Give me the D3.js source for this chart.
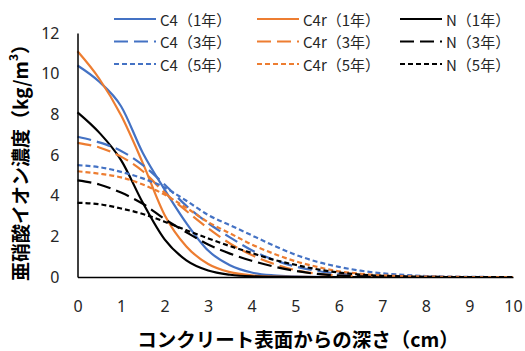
<!DOCTYPE html>
<html>
<head>
<meta charset="utf-8">
<script src="https://cdn.jsdelivr.net/npm/d3@7"></script>
<style>
  html, body { margin: 0; padding: 0; background: #fff; }
  svg { display: block; font-family: "Noto Sans CJK JP", "Noto Sans", sans-serif; }
</style>
</head>
<body>
<svg id="chart" width="525" height="351"></svg>
<script>
// Depth from the concrete surface (cm)
const depth = [0, 0.5, 1, 1.5, 2, 2.5, 3, 3.5, 4, 4.5, 5, 5.5, 6, 6.5, 7, 7.5, 8, 8.5, 9, 9.5, 10];

// Nitrite ion concentration (kg/m3) per specimen and exposure period
const c4_1  = [10.4, 9.6, 8.4, 6.1, 4.3, 2.65, 1.3, 0.58, 0.22, 0.08, 0.03, 0.01, 0, 0, 0, 0, 0, 0, 0, 0, 0];
const c4r_1 = [11.1, 9.75, 7.95, 5.6, 3.05, 1.5, 0.64, 0.24, 0.08, 0.02, 0.01, 0, 0, 0, 0, 0, 0, 0, 0, 0, 0];
const n_1   = [8.1, 7.1, 5.75, 3.65, 1.85, 0.82, 0.32, 0.11, 0.03, 0.01, 0, 0, 0, 0, 0, 0, 0, 0, 0, 0, 0];
const c4_3  = [6.9, 6.62, 6.2, 5.5, 4.55, 3.5, 2.65, 1.95, 1.32, 0.85, 0.52, 0.3, 0.17, 0.09, 0.05, 0.02, 0.01, 0, 0, 0, 0];
const c4r_3 = [6.6, 6.37, 5.92, 5.2, 4.15, 3.25, 2.4, 1.65, 1.08, 0.65, 0.34, 0.16, 0.07, 0.03, 0.01, 0, 0, 0, 0, 0, 0];
const n_3   = [4.75, 4.55, 4.15, 3.6, 2.85, 2.2, 1.6, 1.15, 0.8, 0.52, 0.3, 0.15, 0.07, 0.03, 0.01, 0, 0, 0, 0, 0, 0];
const c4_5  = [5.5, 5.4, 5.17, 4.85, 4.4, 3.75, 3.05, 2.55, 2.05, 1.55, 1.1, 0.75, 0.5, 0.31, 0.18, 0.1, 0.05, 0.02, 0.01, 0, 0];
const c4r_5 = [5.2, 5.08, 4.9, 4.55, 4.05, 3.4, 2.7, 2.15, 1.6, 1.15, 0.78, 0.5, 0.28, 0.16, 0.08, 0.04, 0.02, 0.01, 0, 0, 0];
const n_5   = [3.65, 3.58, 3.37, 3.1, 2.72, 2.3, 1.9, 1.52, 1.18, 0.85, 0.6, 0.38, 0.22, 0.12, 0.06, 0.03, 0.01, 0, 0, 0, 0];

const seriesNames = ["C4（1年）", "C4r（1年）", "N（1年）",
                     "C4（3年）", "C4r（3年）", "N（3年）",
                     "C4（5年）", "C4r（5年）", "N（5年）"];
const seriesValues = [c4_1, c4r_1, n_1, c4_3, c4r_3, n_3, c4_5, c4r_5, n_5];

const xTicks = [0, 1, 2, 3, 4, 5, 6, 7, 8, 9, 10];
const yTicks = [0, 2, 4, 6, 8, 10, 12];

const xTitle = "コンクリート表面からの深さ（cm）";

// Styling per series: colour by specimen, dash by period
const colours = { C4: "#4472C4", C4r: "#ED7D31", N: "#000000" };
const dashes = { "1": null, "3": "14,6", "5": "5,3" };

const series = seriesNames.map((name, i) => {
  const key = name.split("（")[0];
  const period = name.match(/（(\d)年）/)[1];
  return {
    name,
    colour: colours[key],
    dash: dashes[period],
    points: depth.map((d, j) => ({ d, v: seriesValues[i][j] }))
  };
});

const svg = d3.select("#chart");
const x = d3.scaleLinear().domain([0, 10]).range([77.5, 513]);
const y = d3.scaleLinear().domain([0, 12]).range([277, 33]);

// Curves
const line = d3.line()
  .x(p => x(p.d))
  .y(p => y(p.v))
  .curve(d3.curveMonotoneX);

svg.append("g")
  .selectAll("path")
  .data(series)
  .join("path")
  .attr("d", s => line(s.points))
  .attr("fill", "none")
  .attr("stroke", s => s.colour)
  .attr("stroke-width", 2.2)
  .attr("stroke-dasharray", s => s.dash);

// Axes
const xAxis = svg.append("g")
  .attr("transform", `translate(0,${y(0)})`)
  .call(d3.axisBottom(x).tickValues(xTicks).tickSize(0).tickFormat(d3.format("d")));
const yAxis = svg.append("g")
  .attr("transform", `translate(${x(0)},0)`)
  .call(d3.axisLeft(y).tickValues(yTicks).tickSize(0).tickPadding(18).tickFormat(d3.format("d")));

[xAxis, yAxis].forEach(g => {
  g.select(".domain").attr("stroke", "#000").attr("stroke-width", 1.5);
  g.selectAll("text").attr("font-size", 16).attr("fill", "#262626")
    .attr("font-family", "'Noto Sans', 'Noto Sans CJK JP', sans-serif");
});
xAxis.selectAll("text").attr("dy", "0.35em").attr("y", 29);

// Axis titles
svg.append("text")
  .attr("x", 298)
  .attr("y", 338)
  .attr("text-anchor", "middle")
  .attr("dominant-baseline", "central")
  .attr("font-size", 19.5)
  .attr("font-weight", "bold")
  .attr("fill", "#000")
  .text(xTitle);

const yTitle = svg.append("text")
  .attr("transform", "translate(19,158) rotate(-90)")
  .attr("text-anchor", "middle")
  .attr("dominant-baseline", "central")
  .attr("font-size", 19)
  .attr("font-weight", "bold")
  .attr("fill", "#000");
yTitle.append("tspan").text("亜硝酸イオン濃度（kg/m");
yTitle.append("tspan").attr("font-size", 12).attr("dy", "-0.6em").text("3");
yTitle.append("tspan").attr("dy", "0.4em").text("）");

// Legend: three columns, three rows
const legendCols = [114, 257, 400];
const legendRows = [19, 41.5, 64];
const legend = svg.append("g")
  .selectAll("g")
  .data(series)
  .join("g")
  .attr("transform", (s, i) => `translate(${legendCols[i % 3]},${legendRows[Math.floor(i / 3)]})`);

legend.append("line")
  .attr("x1", 0).attr("x2", 42)
  .attr("y1", 0).attr("y2", 0)
  .attr("stroke", s => s.colour)
  .attr("stroke-width", 2.2)
  .attr("stroke-dasharray", s => s.dash);

legend.append("text")
  .attr("x", 46)
  .attr("y", 0)
  .attr("dominant-baseline", "central")
  .attr("font-size", 15)
  .attr("fill", "#262626")
  .text(s => s.name);
</script>
</body>
</html>
